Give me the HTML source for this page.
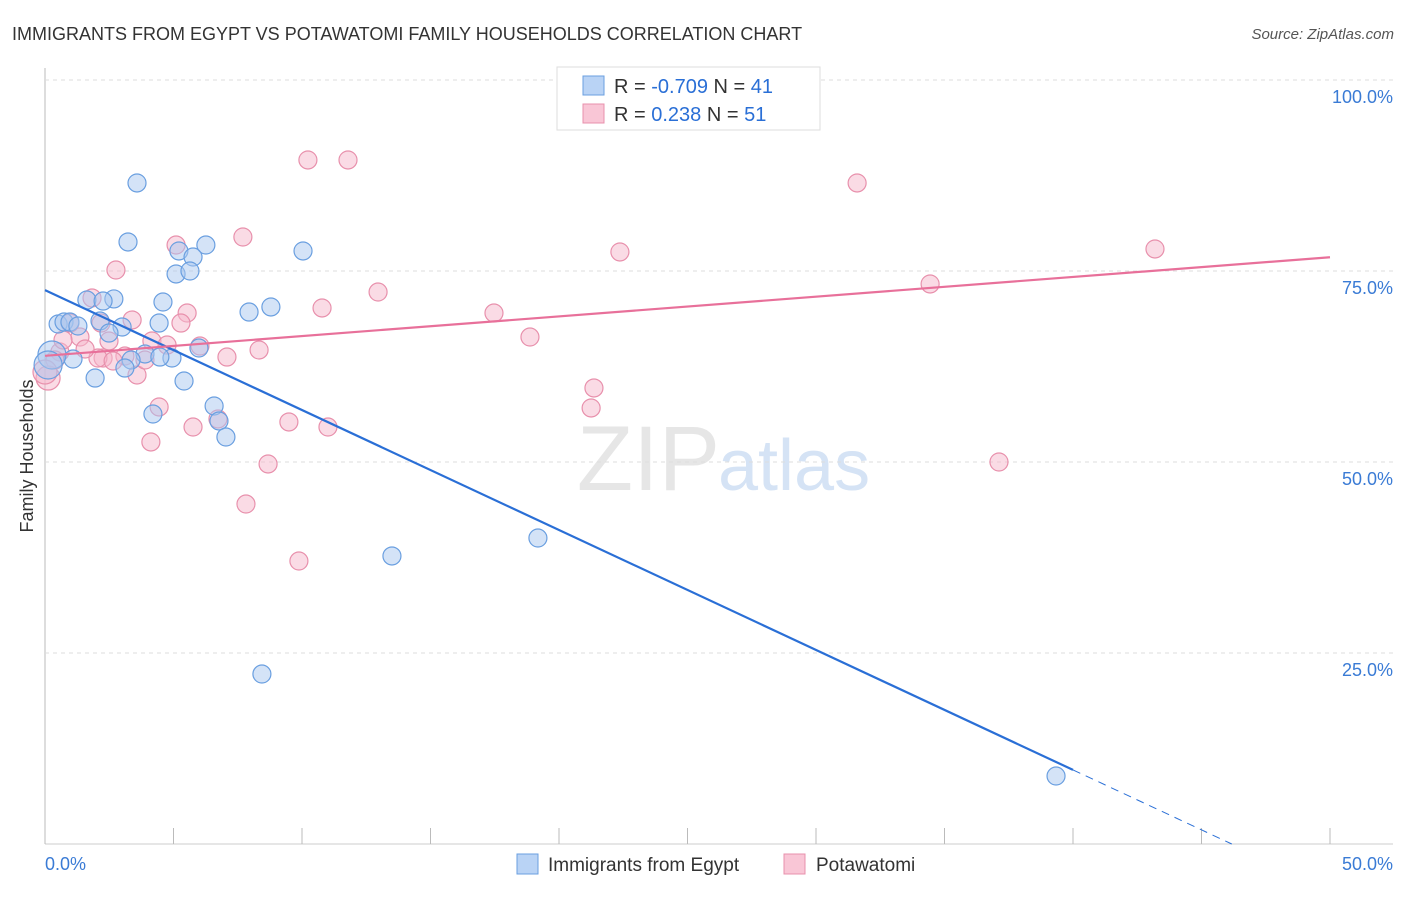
<!DOCTYPE html>
<html><head><meta charset="utf-8"><style>
body{margin:0;background:#fff;font-family:"Liberation Sans",sans-serif}
svg text{font-family:"Liberation Sans",sans-serif}
</style></head><body>
<svg id="c" width="1406" height="892">
<text x="12" y="40" font-size="18" fill="#333">IMMIGRANTS FROM EGYPT VS POTAWATOMI FAMILY HOUSEHOLDS CORRELATION CHART</text>
<text x="1394" y="39" font-size="15" fill="#555" text-anchor="end" font-style="italic">Source: ZipAtlas.com</text>
<text x="33" y="456" font-size="18" fill="#333" text-anchor="middle" transform="rotate(-90 33 456)">Family Households</text>
<text x="720" y="490" font-size="92" fill="#e6e6e6" text-anchor="end" font-family="Liberation Serif">ZIP</text>
<text x="718" y="490" font-size="72" fill="#d5e3f5">atlas</text>
<g id="grid"></g><g id="pts"></g><g id="lines"></g>
<g>
<rect x="557" y="67" width="263" height="63" fill="#fff" stroke="#ddd"/>
<rect x="583" y="76" width="21" height="19" fill="#b9d3f5" stroke="#6a9fe0"/>
<rect x="583" y="104" width="21" height="19" fill="#f9c6d6" stroke="#e890ac"/>
<text x="614" y="93" font-size="20" fill="#333">R = <tspan fill="#2a6fd6">-0.709</tspan>   N = <tspan fill="#2a6fd6">41</tspan></text>
<text x="614" y="121" font-size="20" fill="#333">R =  <tspan fill="#2a6fd6"> 0.238</tspan>   N = <tspan fill="#2a6fd6">51</tspan></text>
</g>
<g>
<rect x="517" y="854" width="21" height="20" fill="#b9d3f5" stroke="#6a9fe0"/>
<text x="548" y="871" font-size="19" fill="#333">Immigrants from Egypt</text>
<rect x="784" y="854" width="21" height="20" fill="#f9c6d6" stroke="#e890ac"/>
<text x="816" y="871" font-size="19" fill="#333">Potawatomi</text>
</g>
</svg>
<script>
const egyptPx=[[137,183],[128,242],[206,245],[179,251],[193,257],[303,251],[176,274],[190,271],[87,300],[114,299],[103,301],[163,302],[249,312],[271,307],[58,324],[64,322],[70,322],[78,326],[100,321],[159,323],[122,327],[109,333],[145,354],[131,360],[199,348],[172,358],[73,359],[52,355],[48,365],[125,368],[95,378],[184,381],[214,406],[153,414],[219,421],[226,437],[392,556],[538,538],[262,674],[1056,776],[160,357]];
const potaPx=[[308,160],[348,160],[857,183],[1155,249],[620,252],[243,237],[176,245],[116,270],[378,292],[930,284],[92,298],[322,308],[494,313],[187,313],[101,323],[132,320],[181,323],[530,337],[80,337],[109,341],[152,341],[167,345],[200,346],[259,350],[125,356],[103,358],[98,358],[60,352],[55,360],[48,378],[227,357],[137,375],[145,360],[594,388],[591,408],[159,407],[218,419],[193,427],[289,422],[328,427],[151,442],[268,464],[999,462],[246,504],[299,561],[700,82],[70,323],[63,340],[45,372],[113,361],[85,349]];
// data values (x %, y %)
const egyptX=egyptPx.map(p=>+((p[0]-45)/25.7).toFixed(2));
const egyptY=egyptPx.map(p=>+((844-p[1])/7.64).toFixed(2));
const potaX=potaPx.map(p=>+((p[0]-45)/25.7).toFixed(2));
const potaY=potaPx.map(p=>+((844-p[1])/7.64).toFixed(2));
const egyptTrend=[72.5,9.7,40]; // y at 0, y at 40, solid end x
const potaTrend=[63.9,76.8];
const yTicks=[25,50,75,100];
const xTicks=[0,5,10,15,20,25,30,35,40,45,50];
const sx=v=>45+v*25.7, sy=v=>844-v*7.64;
const NS='http://www.w3.org/2000/svg';
function mk(t,a,p){const e=document.createElementNS(NS,t);for(const k in a)e.setAttribute(k,a[k]);p.appendChild(e);return e;}
const g=document.getElementById('grid');
mk('line',{x1:45,y1:68,x2:45,y2:844,stroke:'#bbb'},g);
mk('line',{x1:45,y1:844,x2:1393,y2:844,stroke:'#ccc'},g);
yTicks.forEach(v=>{const l=mk('line',{x1:45,x2:1393,y1:sy(v),y2:sy(v),stroke:'#ddd','stroke-dasharray':'4,4'},g);


const t=mk('text',{x:1393,y:sy(v)+23,'font-size':18,fill:'#3a7bd5','text-anchor':'end'},g);t.textContent=v.toFixed(1)+'%';

});
xTicks.forEach(v=>{const l=mk('line',{x1:sx(v),x2:sx(v),y1:828,y2:844,stroke:'#bbb'},g);

});
[[0,'start','0.0%'],[50,'end','50.0%']].forEach(d=>{const t=mk('text',{x:d[0]?1393:45,y:870,'font-size':18,fill:'#3a7bd5','text-anchor':d[1]},g);t.textContent=d[2];

});
const P=document.getElementById('pts');
potaX.forEach((x,i)=>{const c=mk('circle',{cx:sx(x),cy:sy(potaY[i]),r:x<0.3?12:9,fill:'#f5b8cc','fill-opacity':0.5,stroke:'#e890ac','stroke-width':1.2},P);

});
egyptX.forEach((x,i)=>{const c=mk('circle',{cx:sx(x),cy:sy(egyptY[i]),r:x<0.3?14:9,fill:'#aac8f0','fill-opacity':0.5,stroke:'#6a9fe0','stroke-width':1.2},P);

});
const L=document.getElementById('lines');
const by=x=>egyptTrend[0]+(egyptTrend[1]-egyptTrend[0])*x/40;
let l1=mk('line',{x1:sx(0),y1:sy(by(0)),x2:sx(egyptTrend[2]),y2:sy(by(egyptTrend[2])),stroke:'#2a6fd6','stroke-width':2.2},L);


let xe=-egyptTrend[0]*40/(egyptTrend[1]-egyptTrend[0]);
let l2=mk('line',{x1:sx(egyptTrend[2]),y1:sy(by(egyptTrend[2])),x2:sx(xe),y2:sy(0),stroke:'#2a6fd6','stroke-width':1,'stroke-dasharray':'8,6'},L);


let l3=mk('line',{x1:sx(0),y1:sy(potaTrend[0]),x2:sx(50),y2:sy(potaTrend[1]),stroke:'#e8709a','stroke-width':2.2},L);


</script>
</body></html>
